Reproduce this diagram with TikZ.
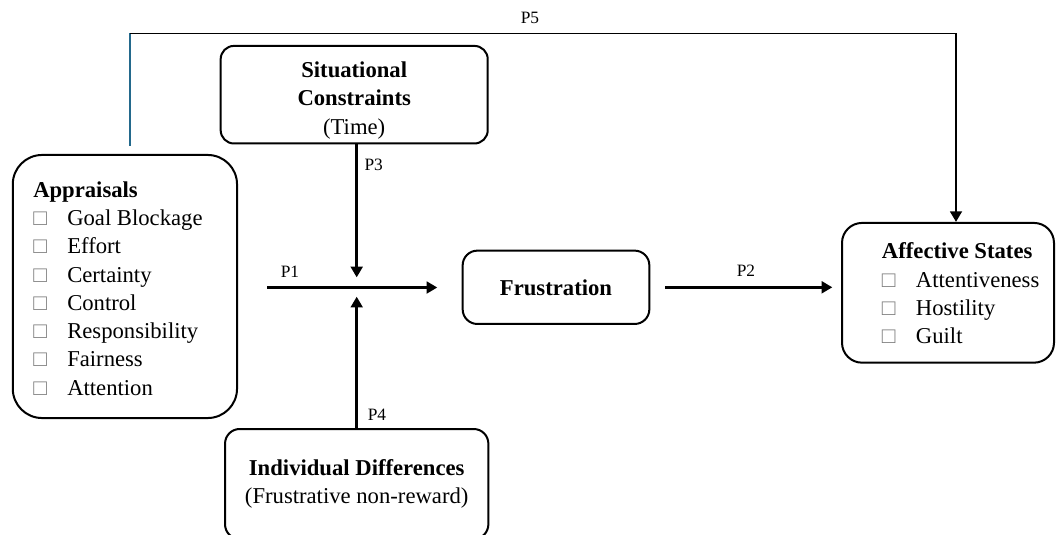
\documentclass[tikz,border=0pt]{standalone}
\usepackage{fontspec}
\setmainfont{Liberation Serif}
\usetikzlibrary{arrows.meta}
\definecolor{sqgray}{RGB}{125,125,125}
\definecolor{pfiveblue}{RGB}{35,105,140}
\newcommand{\sqbox}{\makebox[25.5pt][l]{\textcolor{sqgray}{□}}}
\tikzset{
  box/.style={draw, line width=1.5pt, align=center, font=\fontsize{17}{21.2}\selectfont},
  list/.style={anchor=north west, align=left, inner sep=0pt, font=\fontsize{17}{21.2}\selectfont},
  arr/.style={-{Triangle[length=8pt,width=8.8pt]}, line width=1.9pt},
  plab/.style={inner sep=0pt, font=\fontsize{13}{15}\selectfont}
}
\begin{document}
\begin{tikzpicture}[x=0.75pt, y=-0.75pt]
\useasboundingbox (0,0) rectangle (1056,535);
\clip (0,0) rectangle (1056,535);
% boxes
\node[box, rounded corners=22pt, minimum width=168.2pt, minimum height=197.3pt] (appr) at (124.9,286.5) {};
\node[list] (apprlist) at (33,181.4) {\textbf{Appraisals}\\\sqbox Goal Blockage\\\sqbox Effort\\\sqbox Certainty\\\sqbox Control\\\sqbox Responsibility\\\sqbox Fairness\\\sqbox Attention};
\node[box, rounded corners=10pt, minimum width=200.3pt, minimum height=72pt] (sit) at (354.2,94.7) {\rule{0pt}{20.5pt}\textbf{Situational}\\\textbf{Constraints}\\(Time)};
\node[box, rounded corners=11pt, minimum width=140pt, minimum height=55pt] (frus) at (556,287.3) {\textbf{Frustration}};
\node[box, rounded corners=15pt, minimum width=159pt, minimum height=104.8pt] (aff) at (948,292.8) {};
\node[list] (afflist) at (881.7,242.7) {\textbf{Affective States}\\\sqbox Attentiveness\\\sqbox Hostility\\\sqbox Guilt};
\node[box, rounded corners=11pt, minimum width=197.5pt, minimum height=82.5pt] (ind) at (356.7,484) {\textbf{Individual Differences}\\(Frustrative non-reward)};
% connectors
\coordinate (join) at (356.7,287.5);
\coordinate (pone) at (267.3,287.5);
\coordinate (ponend) at (437.3,287.5);
\draw[arr] (pone) -- (ponend);
\draw[arr] (sit.south -| join) -- ([yshift=7.6pt]join);
\draw[arr] (ind.north -| join) -- ([yshift=-6.9pt]join);
\draw[arr] ([xshift=11pt]frus.east) -- ([xshift=-6.5pt]frus.east -| aff.west);
\coordinate (pfive) at ([xshift=3.8pt,yshift=6.2pt]appr.north);
\coordinate (pfivetop) at (956,33.3);
\draw[pfiveblue, line width=1.4pt] (pfive) -- (pfive |- pfivetop);
\draw[line width=0.9pt] (pfive |- pfivetop) -- (pfivetop);
\draw[arr] (pfivetop) -- (pfivetop |- aff.north);
% labels
\node[plab] (lblone) at (290,272) {P1};
\node[plab] (lbltwo) at (746,271) {P2};
\node[plab] (lblthree) at (373.7,165) {P3};
\node[plab] (lblfour) at (377,414.5) {P4};
\node[plab] (lblfive) at (530,18) {P5};
\end{tikzpicture}
\end{document}
